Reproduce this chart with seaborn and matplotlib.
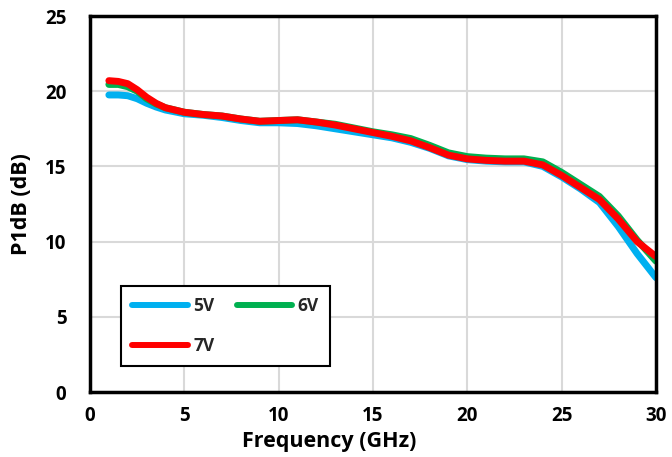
import matplotlib
matplotlib.use("Agg")
import matplotlib.pyplot as plt
import seaborn as sns
import pandas as pd

freq = [1, 1.5, 2, 2.5, 3, 3.5, 4, 5, 6, 7, 8, 9, 10, 11, 12, 13, 14, 15, 16, 17, 18,
        19, 20, 21, 22, 23, 24, 25, 26, 27, 28, 29, 30]
v5 = [19.75, 19.75, 19.7, 19.5, 19.2, 18.95, 18.75, 18.5, 18.4, 18.25, 18.05, 17.9, 17.9,
      17.85, 17.7, 17.5, 17.3, 17.1, 16.9, 16.6, 16.2, 15.7, 15.45, 15.35, 15.3, 15.3,
      15.0, 14.3, 13.5, 12.6, 11.0, 9.2, 7.6]
v6 = [20.45, 20.45, 20.3, 20.0, 19.5, 19.15, 18.9, 18.6, 18.45, 18.35, 18.15, 18.0, 18.05,
      18.1, 17.95, 17.8, 17.55, 17.3, 17.1, 16.85, 16.4, 15.9, 15.65, 15.55, 15.5, 15.5,
      15.3, 14.6, 13.8, 13.0, 11.7, 10.1, 8.7]
v7 = [20.7, 20.65, 20.5, 20.1, 19.6, 19.2, 18.9, 18.6, 18.45, 18.35, 18.15, 18.0, 18.05,
      18.1, 17.95, 17.75, 17.5, 17.25, 17.0, 16.7, 16.25, 15.75, 15.5, 15.4, 15.35, 15.35,
      15.1, 14.4, 13.6, 12.8, 11.5, 10.0, 9.0]
series_names = ["5V", "6V", "7V"]
colors = ["#00b0f0", "#00b050", "#ff0000"]
xticks = [0, 5, 10, 15, 20, 25, 30]
yticks = [0, 5, 10, 15, 20, 25]

df = pd.concat([
    pd.DataFrame({"Frequency": freq, "P1dB": vals, "Bias": name})
    for name, vals in zip(series_names, [v5, v6, v7])
])

sns.set_theme(style="whitegrid")
plt.rcParams["font.family"] = ["Open Sans", "DejaVu Sans"]
plt.rcParams["font.weight"] = "bold"

fig = plt.figure(figsize=(6.72, 4.57), dpi=100)
ax = fig.add_axes([90 / 672, 65 / 457, 566 / 672, 376 / 457])

sns.lineplot(data=df, x="Frequency", y="P1dB", hue="Bias", palette=colors,
             hue_order=series_names, linewidth=5, ax=ax, legend=True,
             solid_capstyle="round", solid_joinstyle="round")

ax.set_xlim(0, 30)
ax.set_ylim(0, 25)
ax.set_xticks(xticks)
ax.set_yticks(yticks)
ax.grid(True, color="#d9d9d9", linewidth=1.5)
ax.set_axisbelow(True)
for s in ax.spines.values():
    s.set_color("black")
    s.set_linewidth(2.5)

ax.tick_params(axis="both", labelsize=13.5, colors="black", length=4, width=1.2)
ax.tick_params(axis="x", direction="in", pad=10)
ax.tick_params(axis="y", direction="out", pad=13)
for lab in ax.get_xticklabels() + ax.get_yticklabels():
    lab.set_fontweight("bold")

ax.set_xlabel("Frequency (GHz)", fontsize=15.5, fontweight="bold", color="black")
ax.set_ylabel("P1dB (dB)", fontsize=15.5, fontweight="bold", color="black")
ax.xaxis.set_label_coords(0.422, -0.104)
ax.yaxis.set_label_coords(-0.103, 0.5)

handles, labels = ax.get_legend_handles_labels()
order = [0, 2, 1]
leg = ax.legend([handles[i] for i in order], [labels[i] for i in order], ncol=2,
                loc="lower left",
                bbox_to_anchor=((121 - 90) / 566, (392 - 366) / 376),
                borderaxespad=0,
                frameon=True, fancybox=False, framealpha=1, edgecolor="black",
                handlelength=3.2, handletextpad=0.3, columnspacing=1.3,
                labelspacing=1.25, borderpad=0.65,
                prop={"weight": "bold", "size": 12.5})
leg.get_frame().set_linewidth(1.5)
for h in leg.get_lines():
    h.set_linewidth(4.3)
    h.set_solid_capstyle("round")

fig.savefig("out.png", dpi=100)
